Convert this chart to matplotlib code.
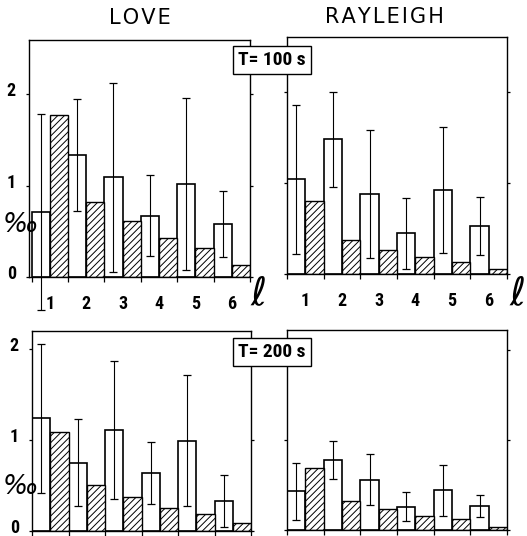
import matplotlib
matplotlib.use('Agg')
import matplotlib.pyplot as plt
import matplotlib.transforms as mtransforms
import numpy as np

plt.rcParams['hatch.linewidth'] = 0.7
NARROW = ['Roboto Condensed', 'Liberation Sans Narrow', 'Liberation Sans', 'DejaVu Sans']

# ---- data ----
ells = [1, 2, 3, 4, 5, 6]
ell_labels = ['1', '2', '3', '4', '5', '6']
ytick_vals = [0, 1, 2]

love100_obs = [0.71, 1.33, 1.09, 0.67, 1.02, 0.58]
love100_err = [1.07, 0.61, 1.03, 0.44, 0.94, 0.36]
love100_model = [1.77, 0.82, 0.61, 0.43, 0.32, 0.13]

ray100_obs = [1.04, 1.48, 0.88, 0.45, 0.92, 0.53]
ray100_err = [0.82, 0.52, 0.70, 0.39, 0.69, 0.32]
ray100_model = [0.80, 0.37, 0.26, 0.19, 0.13, 0.05]

love200_obs = [1.24, 0.75, 1.11, 0.64, 0.99, 0.33]
love200_err = [0.82, 0.48, 0.76, 0.34, 0.72, 0.29]
love200_model = [1.09, 0.51, 0.37, 0.25, 0.19, 0.09]

ray200_obs = [0.43, 0.78, 0.56, 0.26, 0.44, 0.27]
ray200_err = [0.32, 0.21, 0.28, 0.16, 0.28, 0.12]
ray200_model = [0.69, 0.32, 0.23, 0.16, 0.12, 0.03]

W, H = 527, 536
fig = plt.figure(figsize=(W / 100, H / 100), dpi=100)


def ax_at(l, t, r, b):
    return fig.add_axes([l / W, 1 - b / H, (r - l) / W, (b - t) / H])


def panel(ax, obs, err, model, xlim, ymax, ylab, xlab):
    x = np.array(ells, dtype=float)
    ax.bar(x - 0.25, obs, width=0.5, facecolor='white', edgecolor='black',
           lw=1.2, zorder=2)
    ax.bar(x + 0.25, model, width=0.5, facecolor='white', edgecolor='black',
           hatch='/////', lw=1.0, zorder=2)
    ax.errorbar(x - 0.25, obs, yerr=err, fmt='none', ecolor='black',
                elinewidth=0.8, capsize=3.2, capthick=0.9, zorder=3,
                clip_on=False)
    ax.set_xlim(*xlim)
    ax.set_ylim(0, ymax)
    for s in ax.spines.values():
        s.set_linewidth(1.0)
    ax.set_xticks(ells)
    ax.set_xticks(np.arange(0.5, 6.6, 1.0), minor=True)
    ax.tick_params(axis='x', which='major', length=0, pad=13)
    ax.tick_params(axis='x', which='minor', length=3.6, width=0.9,
                   direction='out')
    if xlab:
        ax.set_xticklabels(ell_labels, fontsize=13, fontweight='bold',
                           family=NARROW)
    else:
        ax.set_xticklabels([])
    ax.set_yticks(ytick_vals)
    ax.tick_params(axis='y', which='major', length=2.5, width=0.9,
                   direction='out', left=True, right=True, pad=7)
    if ylab:
        ax.set_yticklabels([str(v) for v in ytick_vals], fontsize=13,
                           fontweight='bold', family=NARROW)
        off = mtransforms.ScaledTranslation(0, -2 / 100, fig.dpi_scale_trans)
        for lab in ax.get_yticklabels():
            lab.set_verticalalignment('baseline')
            lab.set_transform(lab.get_transform() + off)
    else:
        ax.set_yticklabels([])


ax1 = ax_at(29, 40, 250, 277)
panel(ax1, love100_obs, love100_err, love100_model, (0.43, 6.5),
      (277 - 40) / 91.5, True, True)
ax2 = ax_at(287, 37, 507, 274)
panel(ax2, ray100_obs, ray100_err, ray100_model, (0.5, 6.5),
      (274 - 37) / 91.0, False, True)
ax3 = ax_at(32, 331, 251, 531)
panel(ax3, love200_obs, love200_err, love200_model, (0.5, 6.5),
      (531 - 331) / 91.0, True, False)
ax4 = ax_at(287, 330, 507, 530)
panel(ax4, ray200_obs, ray200_err, ray200_model, (0.5, 6.5),
      (530 - 330) / 90.0, False, False)


def ftext(px, py, s, **kw):
    fig.text(px / W, 1 - py / H, s, **kw)


HS = '\u200a'
ftext(140, 18, HS.join('LOVE'), ha='center', va='center', fontsize=15)
ftext(384, 17, HS.join('RAYLEIGH'), ha='center', va='center', fontsize=15)

box = dict(boxstyle='square,pad=0.25', fc='white', ec='black', lw=1.0)
ftext(272, 60, 'T= 100 s', ha='center', va='center', fontsize=14,
      fontweight='bold', family=NARROW, bbox=box)
ftext(272, 352, 'T= 200 s', ha='center', va='center', fontsize=14,
      fontweight='bold', family=NARROW, bbox=box)

ftext(20, 225, '‰', ha='center', va='center', fontsize=19, style='italic')
ftext(20, 487, '‰', ha='center', va='center', fontsize=19, style='italic')

ftext(258, 294, r'$\ell$', ha='center', va='center', fontsize=28)
ftext(517, 294, r'$\ell$', ha='center', va='center', fontsize=28)

fig.savefig('out.png', dpi=100)
